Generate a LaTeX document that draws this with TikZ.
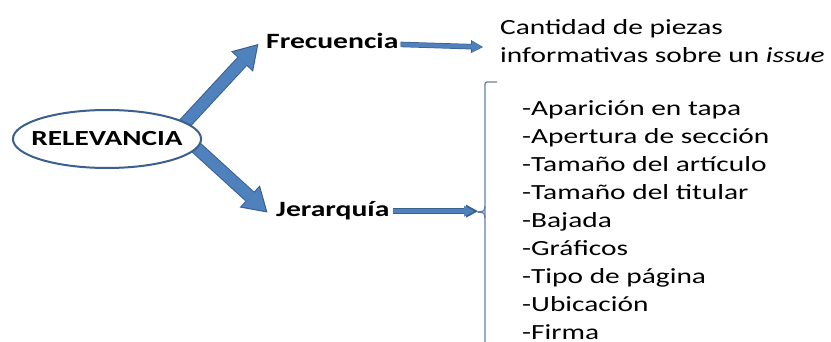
\documentclass[tikz,border=0pt]{standalone}
\usepackage{fontspec}
\setmainfont{Carlito}[FakeStretch=1.36]
\usetikzlibrary{arrows.meta,shapes.geometric,backgrounds}
\definecolor{arrowblue}{HTML}{4F81BD}
\definecolor{edgeblue}{HTML}{3B5F8F}

\begin{document}
\begin{tikzpicture}[x=1pt,y=-1pt,
  main node/.style={ellipse,draw=edgeblue,line width=2pt,fill=white,minimum width=188pt,minimum height=58pt,inner xsep=-9pt,inner ysep=0pt,font=\fontsize{21.5}{28}\selectfont\bfseries},
  key node/.style={inner sep=0pt,font=\fontsize{21.8}{28}\selectfont\bfseries},
  text node/.style={inner sep=0pt,align=left,font=\fontsize{21.6}{28}\selectfont},
  fat arrow/.style={arrowblue,line width=11pt,-{Triangle[width=26pt,length=21pt,line width=0pt]},
    preaction={draw=edgeblue,line width=13pt,-{Triangle[width=30pt,length=24pt,line width=0pt]},shorten >=-2pt}},
  thin arrow/.style={arrowblue,line width=4pt,-{Triangle[width=11pt,length=10pt,line width=0pt]},
    preaction={draw=edgeblue,line width=5.5pt,-{Triangle[width=13pt,length=12pt,line width=0pt]},shorten >=-1pt}},
  bracket/.style={draw=edgeblue!80,line width=1.2pt,rounded corners=2pt}]
  \useasboundingbox (0,0) rectangle (831,342);
  \clip (0,0) rectangle (831,342);

  \node[main node] (rel) at (107,139) {RELEVANCIA};
  \node[key node,anchor=base west] (frec) at (266,49) {Frecuencia};
  \node[key node,anchor=base west] (jer) at (276,217) {Jerarquía};
  \node[text node,anchor=base west] (cant) at (500,63) {Cantidad de piezas\\informativas sobre un \textit{issue}};
  \node[text node,anchor=base west] (items) at (522,339)
    {-Aparición en tapa\\-Apertura de sección\\-Tamaño del artículo\\-Tamaño del titular\\-Bajada\\-Gráficos\\-Tipo de página\\-Ubicación\\-Firma};

  % bracket round the list
  \coordinate (btop) at (497,82);
  \coordinate (jtip) at (477,212);
  \coordinate (ftip) at (482,47);
  \draw[bracket] (btop) -- (485,82) -- (485,350);
  \draw[bracket,rounded corners=1pt] (485,206) -- (484,211) -- (jtip) -- (484,213) -- (485,218);

  \begin{scope}[on background layer]
    \draw[fat arrow,shorten <=-10pt] (rel.12) -- ([xshift=-9pt,yshift=-4pt]frec.west);
    \draw[fat arrow,shorten <=-10pt] (rel.-6) -- ([xshift=-10pt]jer.west);
  \end{scope}
  \draw[thin arrow] ([xshift=2pt,yshift=-3pt]frec.east) -- (ftip);
  \draw[thin arrow,shorten >=3pt] ([xshift=3pt]jer.east) -- (jer.east -| jtip);
\end{tikzpicture}
\end{document}
